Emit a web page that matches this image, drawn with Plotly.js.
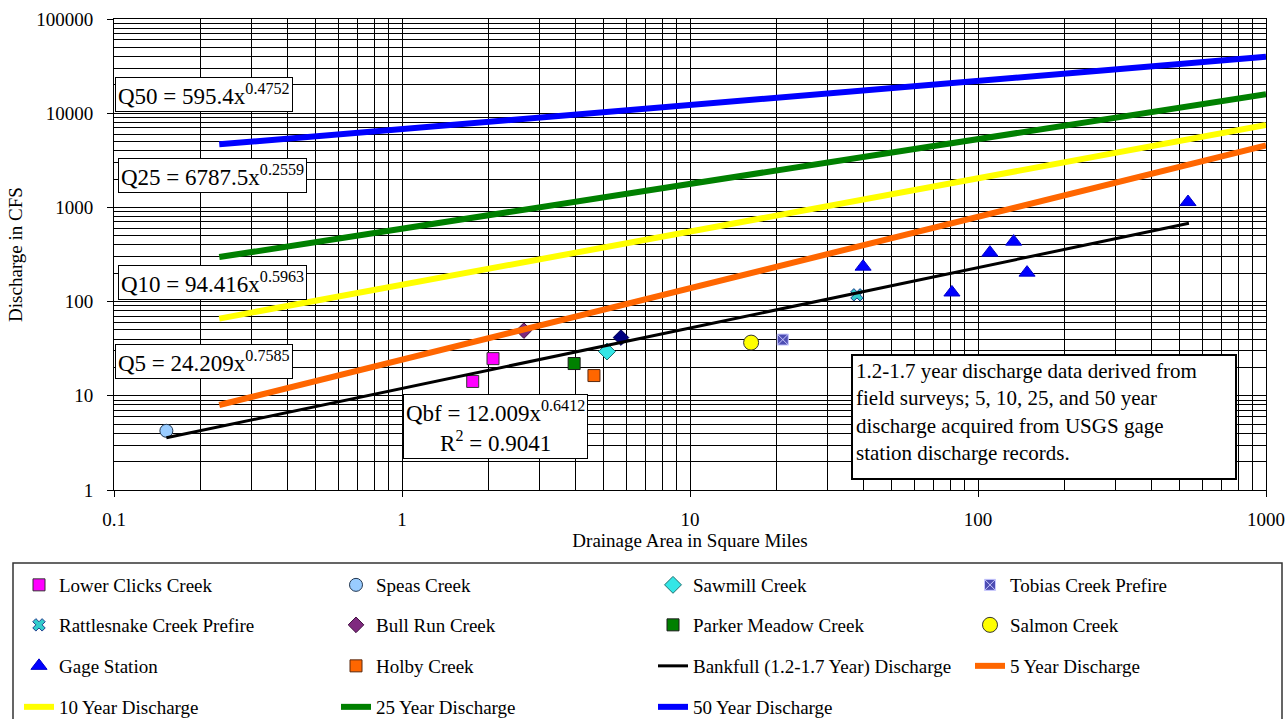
<!DOCTYPE html>
<html>
<head>
<meta charset="utf-8">
<script src="https://cdn.plot.ly/plotly-3.0.1.min.js"></script>
<style>
  html, body { margin: 0; padding: 0; background: #ffffff; }
  #chart { width: 1288px; height: 719px; }
</style>
</head>
<body>
<div id="chart"></div>
<script>
// ---- Field survey sites (drainage area in sq mi, discharge in cfs) ----
const lowerClicksArea = [1.76, 2.07];
const lowerClicksQ    = [14.2, 24.8];
const speasArea = [0.152];
const speasQ    = [4.25];
const sawmillArea = [5.15];
const sawmillQ    = [29.5];
const tobiasArea = [21.0];
const tobiasQ    = [39.5];
const rattlesnakeArea = [38.0];
const rattlesnakeQ    = [118];
const bullRunArea = [2.65];
const bullRunQ    = [49.2];
const otherSiteArea = [5.76];
const otherSiteQ    = [41.5];
const parkerArea = [3.96];
const parkerQ    = [22.0];
const salmonArea = [16.3];
const salmonQ    = [36.7];
const gageArea = [39.9, 81.2, 110, 133, 148, 536];
const gageQ    = [235, 125, 331, 433, 203, 1140];
const holbyArea = [4.64];
const holbyQ    = [16.4];

// ---- Regional curves (end points of each power-law line) ----
const bankfullArea = [0.152, 540];
const bankfullQ    = [3.58, 678];
const q5Area  = [0.232, 1000];
const q5Q     = [7.99, 4560];
const q10Area = [0.232, 1000];
const q10Q    = [66, 7500];
const q25Area = [0.232, 1000];
const q25Q    = [297, 15870];
const q50Area = [0.232, 1000];
const q50Q    = [4670, 39700];

// ---- Axis ticks ----
const xTickVals = [0.1, 1, 10, 100, 1000];
const xTickText = ['0.1', '1', '10', '100', '1000'];
const yTickVals = [1, 10, 100, 1000, 10000, 100000];
const yTickText = ['1', '10', '100', '1000', '10000', '100000'];

const SERIF = '"Liberation Serif", "Times New Roman", serif';

// plot area in pixels
const L = 114, R = 22, T = 19, B = 229, W = 1288, H = 719;
const PW = W - L - R, PH = H - T - B;
const px = x => (x - L) / PW;
const py = y => (H - B - y) / PH;

function pts(name, x, y, marker, legend, show) {
  return {
    type: 'scatter', mode: 'markers', name: name, x: x, y: y,
    marker: marker, legend: legend, showlegend: show !== false,
    cliponaxis: true
  };
}
function curve(name, x, y, color, width, legend) {
  return {
    type: 'scatter', mode: 'lines', name: name, x: x, y: y,
    line: { color: color, width: width }, legend: legend
  };
}

const data = [
  pts('Lower Clicks Creek', lowerClicksArea, lowerClicksQ,
      { symbol: 'square', size: 12, color: '#ff00ff', line: { color: '#333', width: 1 } }, 'legend'),
  pts('Speas Creek', speasArea, speasQ,
      { symbol: 'circle', size: 13, color: '#99ccff', line: { color: '#22364f', width: 1 } }, 'legend'),
  pts('Sawmill Creek', sawmillArea, sawmillQ,
      { symbol: 'diamond', size: 13, color: '#33e6e6', line: { color: '#1d6e6e', width: 1 } }, 'legend'),
  pts('Tobias Creek Prefire', tobiasArea, tobiasQ,
      { symbol: 'square-x', size: 11, color: '#4d4db3', line: { color: '#c8c8ff', width: 1 } }, 'legend'),
  pts('Rattlesnake Creek Prefire', rattlesnakeArea, rattlesnakeQ,
      { symbol: 'x', size: 11, color: '#33cccc', line: { color: '#1f3f8f', width: 1 } }, 'legend2'),
  pts('Bull Run Creek', bullRunArea, bullRunQ,
      { symbol: 'diamond', size: 12, color: '#7f2a7f', line: { color: '#3f103f', width: 1 } }, 'legend2'),
  pts('Parker Meadow Creek', parkerArea, parkerQ,
      { symbol: 'square', size: 12, color: '#008000', line: { color: '#1a1a1a', width: 1 } }, 'legend2'),
  pts('Salmon Creek', salmonArea, salmonQ,
      { symbol: 'circle', size: 15, color: '#ffff00', line: { color: '#333', width: 1 } }, 'legend2'),
  pts('Gage Station', gageArea, gageQ,
      { symbol: 'triangle-up', size: 14, color: '#0000ff', line: { color: '#0000cc', width: 1 } }, 'legend3'),
  pts('Holby Creek', holbyArea, holbyQ,
      { symbol: 'square', size: 12, color: '#ff6600', line: { color: '#5a2a10', width: 1 } }, 'legend3'),
  pts('Other site', otherSiteArea, otherSiteQ,
      { symbol: 'diamond', size: 12, color: '#000080', line: { color: '#000050', width: 1 } }, 'legend3', false),
  curve('Bankfull (1.2-1.7 Year) Discharge', bankfullArea, bankfullQ, '#000000', 3, 'legend3'),
  curve('5 Year Discharge', q5Area, q5Q, '#ff6600', 6, 'legend3'),
  curve('10 Year Discharge', q10Area, q10Q, '#ffff00', 6, 'legend4'),
  curve('25 Year Discharge', q25Area, q25Q, '#008000', 6, 'legend4'),
  curve('50 Year Discharge', q50Area, q50Q, '#0000ff', 6, 'legend4')
];

const tickFont = { family: SERIF, size: 19, color: '#000' };

function legendRow(yPix) {
  return {
    orientation: 'h', x: px(19), xanchor: 'left', y: py(yPix), yanchor: 'middle',
    entrywidth: 272, entrywidthmode: 'pixels',
    bgcolor: 'rgba(0,0,0,0)', borderwidth: 0,
    font: { family: SERIF, size: 19, color: '#000' },
    itemclick: false, itemdoubleclick: false, valign: 'middle'
  };
}

function eqBox(text, left, top) {
  return {
    xref: 'paper', yref: 'paper', x: px(left), y: py(top),
    xanchor: 'left', yanchor: 'top', showarrow: false, text: text,
    font: { family: SERIF, size: 23, color: '#000' },
    bgcolor: '#ffffff', bordercolor: '#000000', borderwidth: 1, borderpad: 2
  };
}

const layout = {
  width: W, height: H,
  margin: { l: L, r: R, t: T, b: B, autoexpand: false },
  paper_bgcolor: '#ffffff', plot_bgcolor: '#ffffff',
  font: { family: SERIF, size: 19, color: '#000' },
  xaxis: {
    type: 'log', range: [-1, 3],
    tickvals: xTickVals, ticktext: xTickText,
    ticks: 'outside', ticklen: 6, tickcolor: '#000', tickwidth: 1,
    ticklabelstandoff: 6,
    showgrid: true, gridcolor: '#000', gridwidth: 1,
    minor: { dtick: 'D1', showgrid: true, gridcolor: '#000', gridwidth: 1, ticks: '' },
    showline: true, mirror: true, linecolor: '#000', linewidth: 1,
    tickfont: tickFont,
    title: { text: 'Drainage Area in Square Miles', font: { family: SERIF, size: 19, color: '#000' }, standoff: 0 }
  },
  yaxis: {
    type: 'log', range: [0, 5],
    tickvals: yTickVals, ticktext: yTickText,
    ticks: 'outside', ticklen: 6, tickcolor: '#000', tickwidth: 1,
    ticklabelstandoff: 10,
    showgrid: true, gridcolor: '#000', gridwidth: 1,
    minor: { dtick: 'D1', showgrid: true, gridcolor: '#000', gridwidth: 1, ticks: '' },
    showline: true, mirror: true, linecolor: '#000', linewidth: 1,
    tickfont: tickFont,
    title: { text: 'Discharge in CFS', font: { family: SERIF, size: 19, color: '#000' }, standoff: 8 }
  },
  legend: legendRow(585),
  legend2: legendRow(625),
  legend3: legendRow(666),
  legend4: legendRow(707),
  shapes: [{
    type: 'rect', xref: 'paper', yref: 'paper',
    x0: px(13), x1: px(1282), y0: py(563), y1: py(720),
    line: { color: '#333', width: 1.5 }, fillcolor: 'rgba(0,0,0,0)', layer: 'below'
  }],
  annotations: [
    eqBox('Q50 = 595.4x<sup>0.4752</sup>', 115, 77),
    eqBox('Q25 = 6787.5x<sup>0.2559</sup>', 118, 158),
    eqBox('Q10 = 94.416x<sup>0.5963</sup>', 118, 265),
    eqBox('Q5 = 24.209x<sup>0.7585</sup>', 115, 344),
    Object.assign(eqBox('Qbf = 12.009x<sup>0.6412</sup><br>R<sup>2</sup> = 0.9041', 403, 394), { align: 'center' }),
    {
      xref: 'paper', yref: 'paper', x: px(851), y: py(354), xanchor: 'left', yanchor: 'top',
      showarrow: false, align: 'left', valign: 'top', width: 376, height: 116,
      text: '1.2-1.7 year discharge data derived from<br>field surveys; 5, 10, 25, and 50 year<br>discharge acquired from USGS gage<br>station discharge records.',
      font: { family: SERIF, size: 21, color: '#000' },
      bgcolor: '#ffffff', bordercolor: '#000000', borderwidth: 2, borderpad: 3
    }
  ],
  showlegend: true
};

Plotly.newPlot('chart', data, layout, { staticPlot: true, displayModeBar: false });
</script>
</body>
</html>
